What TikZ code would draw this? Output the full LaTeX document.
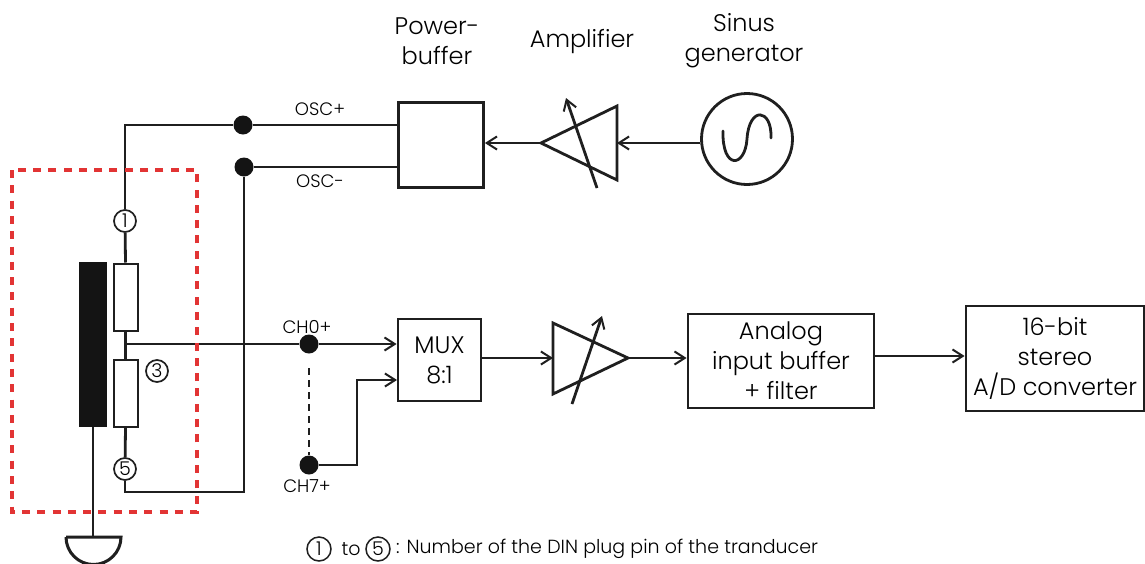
\documentclass[tikz,border=0pt]{standalone}
\usepackage{fontspec}
\setmainfont{Poppins}[UprightFont=* Light]
\usepackage{tikz}
\usetikzlibrary{arrows.meta}
\usetikzlibrary{positioning, calc}
\definecolor{boxred}{RGB}{226,52,52}

\begin{document}
\begin{tikzpicture}[x=1pt, y=-1pt]
		\newcommand*{\wirewd}{2.8pt}
		\tikzset{
			myarrow/.tip={Straight Barb[length=3.6mm, width=4.6mm, line width=2pt]},
			wire/.style={line width=\wirewd, draw=black!88},
			blockbox/.style={draw=black!88, line width=\wirewd, inner sep=0pt, align=center, font=\fontsize{24}{30}\selectfont},
			resbox/.style={draw=black!88, line width=2pt, fill=white, minimum width=24pt, minimum height=67pt, inner sep=0pt},
			pinmark/.style={circle, draw=black!88, line width=1.7pt, fill=white, minimum size=22pt, inner sep=0pt, font=\fontsize{19}{19}\selectfont},
			jdot/.style={circle, fill=black!92, minimum size=19pt, inner sep=0pt},
			biglabel/.style={align=center, font=\fontsize{24}{30}\selectfont},
			smalllabel/.style={font=\fontsize{18}{18}\selectfont},
		}
		\useasboundingbox (0,0) rectangle (1145,563);
		\fill[white] (0,0) rectangle (1145,563);

		\node[blockbox, minimum width=85pt, minimum height=85pt] (powerbuffer) at (441,145) {};
		\node[biglabel] (powerlabel) at (437,41) {Power-\\buffer};
		\node[biglabel] (amplabel) at (582,42) {Amplifier};
		\node[biglabel] (sinuslabel) at (744,41) {Sinus\\generator};
		\node[circle, draw=black!88, line width=\wirewd, minimum size=91pt, inner sep=0pt] (sinusgen) at (747,139) {};

		\coordinate (amptip) at (541,143);
		\coordinate (ampin) at (617,143);
		\coordinate (ampup) at (617,106);
		\coordinate (ampdown) at (617,180);
		\coordinate (tuneastart) at (597,188);
		\coordinate (tuneaend) at (566,98);
		\draw[wire, line join=miter] (amptip) -- (ampup) -- (ampdown) -- cycle;
		\draw[wire, -myarrow] (tuneastart) -- (tuneaend);
		\draw[wire, -myarrow] (sinusgen.west |- ampin) -- (ampin);
		\draw[wire, -myarrow] (amptip) -- (amptip -| powerbuffer.east);
		\draw[wire, line cap=round] (723,131) .. controls (722,170) and (745,168) .. (747,139) .. controls (749,106) and (772,108) .. (771,138);

		\node[jdot] (dotoscp) at (243,125) {};
		\node[jdot] (dotoscm) at (244,167) {};
		\node[smalllabel] (oscplabel) at (320,109) {OSC+};
		\node[smalllabel] (oscmlabel) at (320,181) {OSC-};
		\node[pinmark] (pinone) at (125,221) {1};
		\node[pinmark] (pinthree) at (157,371) {3};
		\node[pinmark] (pinfive) at (125,469) {5};
		\node[resbox] (resone) at (125.5,297) {};
		\node[resbox] (restwo) at (125.5,393) {};
		\node[fill=black!92, minimum width=28pt, minimum height=165pt, inner sep=0pt] (element) at (93,344.5) {};
		\coordinate (restap) at (125.5,344);
		\coordinate (groundtop) at (93,537);

		\draw[wire] (pinone) |- (dotoscp);
		\draw[wire] (dotoscp) -- (dotoscp -| powerbuffer.west);
		\draw[wire] (dotoscm) -- (dotoscm -| powerbuffer.west);
		\draw[wire] (pinone) -- (resone.north);
		\draw[wire] (resone.south) -- (restwo.north);
		\draw[wire] (restwo.south) -- (pinfive);
		\draw[wire] (pinfive) |- (244,492) -- (dotoscm);
		\draw[wire] (element.south) -- (groundtop);
		\draw[line width=3pt, draw=black!88] (66,537) -- (121,537) arc[start angle=0, end angle=-180, radius=27.5pt];

		\node[jdot] (dotchzero) at (309,344) {};
		\node[jdot] (dotchseven) at (309,465) {};
		\node[smalllabel] (chzerolabel) at (307,327) {CH0+};
		\node[smalllabel] (chsevenlabel) at (307,486) {CH7+};
		\node[blockbox, minimum width=83pt, minimum height=82pt] (muxbox) at (439.5,360) {MUX\\8:1};
		\node[blockbox, minimum width=186pt, minimum height=94pt] (inputbuffer) at (781,361) {Analog\\input buffer\\+ filter};
		\node[blockbox, minimum width=178pt, minimum height=105pt] (adconv) at (1055,358.5) {16-bit\\stereo\\A/D converter};

		\coordinate (gainin) at (553,358);
		\coordinate (gaintip) at (628,358);
		\coordinate (gainup) at (553,323);
		\coordinate (gaindown) at (553,394);
		\coordinate (tunebstart) at (572,404);
		\coordinate (tunebend) at (602,316);
		\draw[wire, line join=miter] (gaintip) -- (gainup) -- (gaindown) -- cycle;
		\draw[wire, -myarrow] (tunebstart) -- (tunebend);

		\draw[wire] (restap) -- (dotchzero);
		\draw[wire, -myarrow] (dotchzero) -- (dotchzero -| muxbox.west);
		\draw[wire, dashed, dash pattern=on 7pt off 5pt] (dotchzero.south |- 0,368) -- (dotchseven);
		\draw[wire, -myarrow] (dotchseven) -| (357,380) -- (397,380);
		\draw[wire, -myarrow] (muxbox.east |- gainin) -- (gainin);
		\draw[wire, -myarrow] (gaintip) -- (gaintip -| inputbuffer.west);
		\draw[wire, -myarrow] (inputbuffer.east |- 0,356) -- (adconv.west |- 0,356);

		\draw[draw=boxred, line width=3.4pt, dashed, dash pattern=on 8pt off 7.3pt] (12,170) rectangle (197,512);

		\node[pinmark, line width=1.5pt, minimum size=24pt] (legendone) at (319,549) {1};
		\node[font=\fontsize{19}{19}\selectfont] (legendto) at (351,549) {to};
		\node[pinmark, line width=1.5pt, minimum size=24pt] (legendfive) at (378,549) {5};
		\node[anchor=west, inner sep=0pt, font=\fontsize{19}{19}\selectfont] (legendtext) at (396,549) {: Number of the DIN plug pin of the tranducer};
	\end{tikzpicture}
\end{document}
